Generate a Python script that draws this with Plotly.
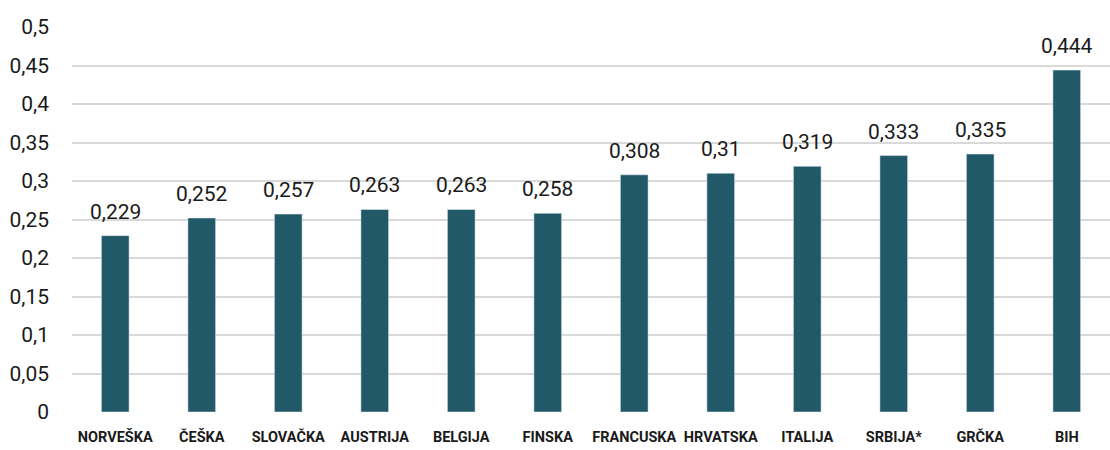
import plotly.graph_objects as go

categories = ["NORVEŠKA", "ČEŠKA", "SLOVAČKA", "AUSTRIJA", "BELGIJA", "FINSKA",
              "FRANCUSKA", "HRVATSKA", "ITALIJA", "SRBIJA*", "GRČKA", "BIH"]
values = [0.229, 0.252, 0.257, 0.263, 0.263, 0.258, 0.308, 0.31, 0.319, 0.333, 0.335, 0.444]
y_ticks = [0, 0.05, 0.1, 0.15, 0.2, 0.25, 0.3, 0.35, 0.4, 0.45, 0.5]
y_tick_labels = ["0", "0,05", "0,1", "0,15", "0,2", "0,25", "0,3", "0,35", "0,4", "0,45", "0,5"]

FONT = "Roboto, Liberation Sans, sans-serif"

labels = [("%g" % v).replace(".", ",") for v in values]

fig = go.Figure(go.Bar(
    x=categories, y=values,
    marker_color="#225968",
    cliponaxis=False,
    hovertext=labels, hoverinfo="x+text",
))

for c, v, t in zip(categories, values, labels):
    fig.add_annotation(x=c, y=v, text=t, showarrow=False, yanchor="bottom",
                       yshift=10, font=dict(family=FONT, size=21, color="#1a1a1a"))

fig.update_layout(
    width=1110, height=450,
    margin=dict(l=72, r=0, t=27, b=38),
    plot_bgcolor="white", paper_bgcolor="white",
    bargap=0.68,
    showlegend=False,
    font=dict(family=FONT, color="#1a1a1a"),
)
fig.update_yaxes(
    range=[0, 0.5], tickvals=y_ticks, ticktext=y_tick_labels,
    showgrid=True, gridcolor="#d9d9d9", gridwidth=2,
    zeroline=False, showline=False,
    tickfont=dict(family=FONT, size=21, color="#1a1a1a"),
    ticks="", ticklabelstandoff=22, automargin=False,
)
fig.update_xaxes(
    showline=False, ticks="", tickangle=0, automargin=False,
    tickfont=dict(family=FONT, size=14.5, color="#1a1a1a", weight="bold"),
    ticklabelstandoff=14,
)

fig.write_html("out.html", config={"displayModeBar": False},
               post_script="document.body.style.margin='0';")
